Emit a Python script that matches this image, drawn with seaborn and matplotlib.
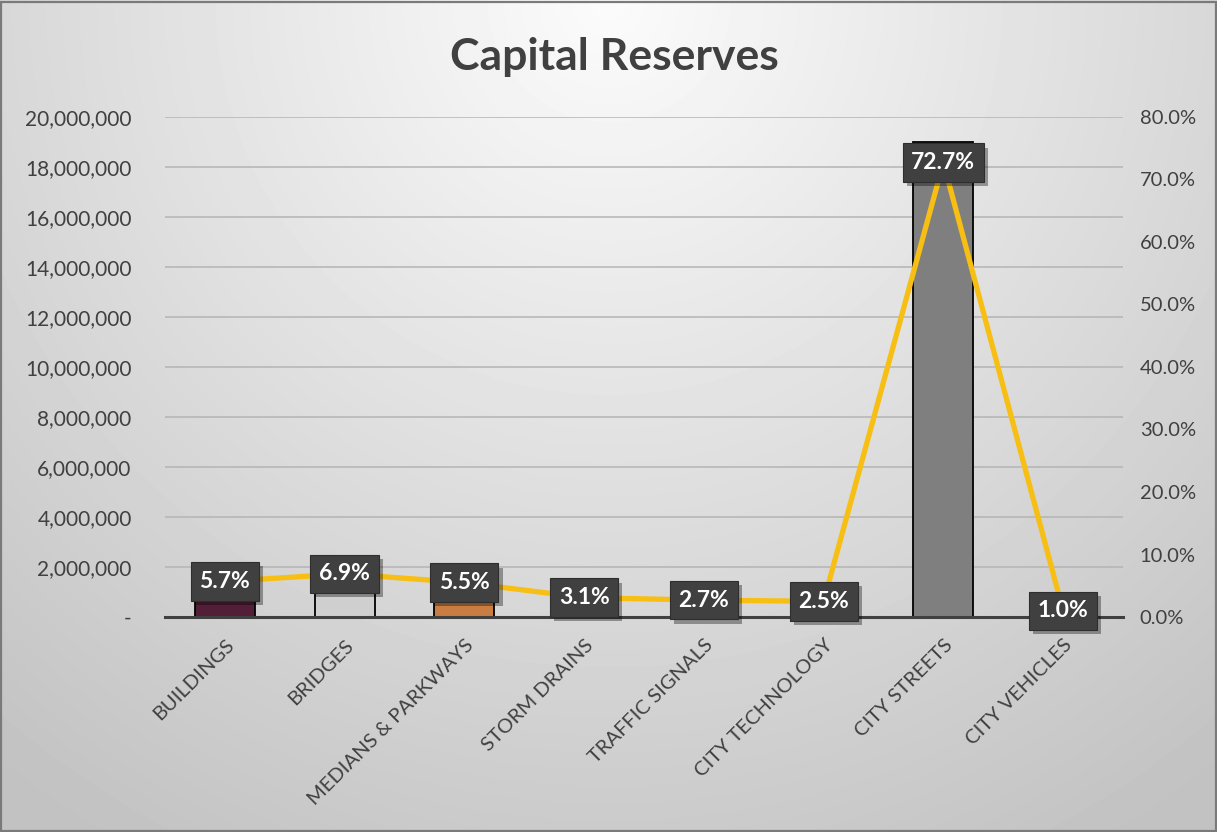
import numpy as np
import pandas as pd
import matplotlib
matplotlib.use("Agg")
import matplotlib.pyplot as plt
import matplotlib.patheffects as pe
from matplotlib.ticker import FuncFormatter, MultipleLocator
import seaborn as sns

# ---- data -------------------------------------------------------------
categories = ["BUILDINGS", "BRIDGES", "MEDIANS & PARKWAYS", "STORM DRAINS",
              "TRAFFIC SIGNALS", "CITY TECHNOLOGY", "CITY STREETS", "CITY VEHICLES"]
amounts = [1490000, 1800000, 1440000, 810000, 705000, 655000, 19000000, 262000]
shares = [5.7, 6.9, 5.5, 3.1, 2.7, 2.5, 72.7, 1.0]
bar_colors = ["#5c1537", "#cfcfcf", "#e07a2c", "#3d5a8a",
              "#6b8e3d", "#8c5aa8", "#7f7f7f", "#2f7f86"]

df = pd.DataFrame({"category": categories, "amount": amounts, "share": shares})
df["pos"] = np.arange(len(df))

sns.set_theme(style="white")
plt.rcParams["font.family"] = ["Lato", "DejaVu Sans"]

W, H = 1217, 832
fig = plt.figure(figsize=(W / 100, H / 100), dpi=100)

# soft radial background, bright at the top centre
bg = fig.add_axes([0, 0, 1, 1], zorder=-10)
yy, xx = np.mgrid[0:H, 0:W]
r = np.sqrt(((xx - W * 0.5) / (W * 0.75)) ** 2 + ((yy - H * 0.0) / (H * 1.1)) ** 2)
shade = np.clip(0.985 - 0.21 * r, 0.76, 1.0)
bg.imshow(shade, cmap="gray", vmin=0, vmax=1, aspect="auto", extent=[0, 1, 0, 1])
bg.set_axis_off()
fig.patches.append(plt.Rectangle((0.001, 0.001), 0.998, 0.997, transform=fig.transFigure,
                                 fill=False, edgecolor="#7a7a7a", linewidth=1.6))

ax = fig.add_axes([165 / W, 1 - 617 / H, (1123 - 165) / W, 500 / H])
ax.patch.set_alpha(0)

sns.barplot(data=df, x="category", y="amount", hue="category", palette=bar_colors,
            width=0.5, edgecolor="black", linewidth=1.3, legend=False, ax=ax, zorder=2)

ax.set_ylim(0, 20000000)
ax.yaxis.set_major_locator(MultipleLocator(2000000))
ax.yaxis.set_major_formatter(FuncFormatter(lambda v, p: "-" if v == 0 else f"{v:,.0f}"))
ax.set_xlim(-0.5, len(categories) - 0.5)
ax.grid(axis="y", color="#b4b4b4", linewidth=1.1, zorder=0)
ax.set_axisbelow(True)
for s in ["left", "right", "top"]:
    ax.spines[s].set_visible(False)
ax.spines["bottom"].set_color("#404040")
ax.spines["bottom"].set_linewidth(2.2)
ax.spines["bottom"].set_zorder(3)

# ticks between categories on the bottom axis
ax.set_xticks(np.arange(len(categories) + 1) - 0.5, minor=True)
ax.tick_params(axis="x", which="minor", length=7, width=2.2, color="#404040", direction="out")
ax.tick_params(axis="x", which="major", length=0, pad=14)
ax.set_xticks(df["pos"])
ax.set_xticklabels(categories, rotation=45, ha="right", rotation_mode="anchor",
                   fontsize=14.5, color="#404040")
ax.tick_params(axis="y", length=0, labelsize=15, labelcolor="#404040", pad=24)
ax.set_xlabel("")
ax.set_ylabel("")

# share line on the secondary axis
ax2 = ax.twinx()
ax2.patch.set_alpha(0)
sns.lineplot(data=df, x="pos", y="share", color="#f7bf14", linewidth=3.8, ax=ax2,
             zorder=4, sort=False)
ax2.set_ylim(0, 80)
ax2.yaxis.set_major_locator(MultipleLocator(10))
ax2.yaxis.set_major_formatter(FuncFormatter(lambda v, p: f"{v:.1f}%"))
ax2.tick_params(axis="y", length=0, labelsize=14.5, labelcolor="#404040", pad=12)
for s in ax2.spines.values():
    s.set_visible(False)
ax2.set_xlabel("")
ax2.set_ylabel("")

# share labels in dark boxes
for x, v in zip(df["pos"], df["share"]):
    t = ax2.text(x, v, f"{v:.1f}%", ha="center", va="center", fontsize=16.5,
                 fontweight="bold", color="white", zorder=6,
                 bbox=dict(boxstyle="square,pad=0.38", facecolor="#404040",
                           edgecolor="#2e2e2e", linewidth=0.8))
    t.get_bbox_patch().set_path_effects(
        [pe.SimplePatchShadow(offset=(3, -3), shadow_rgbFace="#000000", alpha=0.35),
         pe.Normal()])

fig.text(0.505, 1 - 57 / H, "Capital Reserves", ha="center", va="center",
         fontsize=32, fontweight="bold", color="#404040")

fig.savefig("out.png", dpi=100)
